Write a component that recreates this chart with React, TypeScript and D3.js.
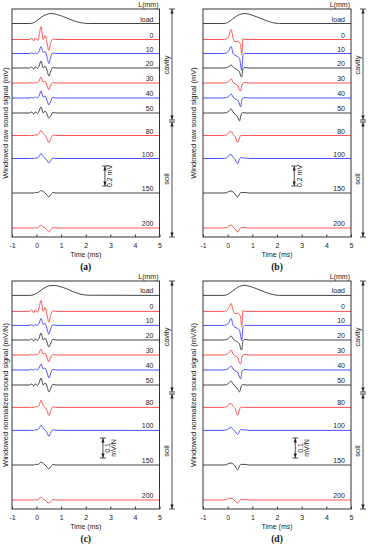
import React, { useEffect, useRef } from 'react';
import * as d3 from 'd3';

const FONT = '"Liberation Sans", Arial, sans-serif';

// distance labels, top to bottom
const traceLabels = ['load', '0', '10', '20', '30', '40', '50', '80', '100', '150', '200'];
const traceColors = ['#444', '#ff5252', '#4d4dff', '#444', '#ff5252', '#4d4dff', '#444', '#ff5252', '#4d4dff', '#444', '#ff5252'];

// vertical offsets of each trace (mV for raw, mV/N for normalized)
const offsetsRaw = [2.135, 1.975, 1.835, 1.69, 1.54, 1.39, 1.24, 1.015, 0.785, 0.44, 0.09];
const offsetsNorm = [1.068, 0.988, 0.918, 0.845, 0.77, 0.695, 0.62, 0.508, 0.393, 0.22, 0.045];

// time keypoints (ms)
const tLoad = [-1, -0.3, -0.15, 0, 0.2, 0.4, 0.55, 0.7, 0.9, 1.2, 1.5, 1.8, 2.1, 5];
const tSigAC = [-1, -0.3, -0.2, -0.12, -0.05, 0.03, 0.1, 0.18, 0.27, 0.35, 0.42, 0.5, 0.58, 0.66, 0.8, 5];
const tSigBD = [-1, -0.2, -0.05, 0.05, 0.14, 0.22, 0.3, 0.4, 0.48, 0.53, 0.57, 0.62, 0.7, 0.85, 5];

// load traces
const loadA = [0, 0, 0.005, 0.025, 0.065, 0.09, 0.1, 0.097, 0.085, 0.058, 0.028, 0.008, 0, 0];
const loadB = [0, 0, 0, 0.01, 0.045, 0.08, 0.095, 0.1, 0.09, 0.065, 0.035, 0.01, 0, 0];
const loadC = [0, 0, 0.002, 0.01, 0.028, 0.043, 0.049, 0.05, 0.046, 0.034, 0.018, 0.006, 0.001, 0];
const loadD = [0, 0, 0, 0.005, 0.022, 0.04, 0.048, 0.05, 0.045, 0.032, 0.017, 0.005, 0, 0];

// (a) windowed raw sound signal, mV (rows: 0,10,20,30,40,50,80,100,150,200 mm)
const sigA = [
  [0, 0, 0.015, -0.015, 0.015, -0.01, 0.035, 0.13, 0.0, 0.04, -0.03, -0.11, -0.03, 0.005, 0, 0],
  [0, 0, 0.005, -0.005, 0.005, 0, 0.02, 0.07, 0.01, 0.02, -0.03, -0.1, -0.03, 0.005, 0, 0],
  [0, 0, 0.01, -0.01, 0.012, -0.005, 0.02, 0.07, 0.0, 0.02, -0.02, -0.08, -0.03, 0.005, 0, 0],
  [0, 0, 0.005, 0, 0.005, 0, 0.02, 0.06, 0.01, 0.02, -0.02, -0.07, -0.02, 0.005, 0, 0],
  [0, 0, 0.005, 0, 0.01, 0, 0.02, 0.07, 0.01, 0.02, -0.02, -0.07, -0.03, 0.005, 0, 0],
  [0, 0, 0.01, -0.01, 0.012, -0.005, 0.02, 0.06, 0.0, 0.02, -0.01, -0.05, -0.03, 0.005, 0, 0],
  [0, 0, 0, 0, 0.005, 0.005, 0.02, 0.05, 0.02, 0.0, -0.03, -0.07, -0.03, 0.005, 0, 0],
  [0, 0, 0, 0, 0.005, 0.005, 0.02, 0.05, 0.02, 0.0, -0.02, -0.045, -0.02, 0.005, 0, 0],
  [0, 0, 0, 0, 0.005, 0.005, 0.01, 0.025, 0.015, 0.0, -0.02, -0.04, -0.015, 0.005, 0, 0],
  [0, 0, 0, 0, 0.005, 0, 0.01, 0.03, 0.01, 0.0, -0.02, -0.04, -0.015, 0.005, 0, 0],
];

// (b) windowed raw sound signal, mV
const sigB = [
  [0, 0, 0.005, 0.04, 0.1, 0.01, -0.02, -0.02, -0.03, -0.06, -0.15, 0.01, 0, 0, 0],
  [0, 0, 0.005, 0.03, 0.07, 0.0, -0.02, -0.03, -0.05, -0.12, -0.17, -0.02, 0, 0, 0],
  [0, 0, 0.003, 0.015, 0.03, 0.01, -0.005, -0.02, -0.04, -0.08, -0.09, -0.01, 0.005, 0, 0],
  [0, 0, 0.003, 0.02, 0.04, 0.01, -0.01, -0.02, -0.07, -0.08, -0.03, 0, 0.005, 0, 0],
  [0, 0, 0.003, 0.02, 0.04, 0.01, -0.01, -0.02, -0.06, -0.09, -0.03, 0, 0.005, 0, 0],
  [0, 0, 0.003, 0.02, 0.04, 0.01, -0.01, -0.04, -0.08, -0.03, 0, 0.005, 0, 0, 0],
  [0, 0, 0.005, 0.03, 0.04, 0.01, -0.01, -0.07, -0.02, 0, 0, 0.003, 0, 0, 0],
  [0, 0, 0.005, 0.03, 0.04, 0.01, -0.01, -0.05, -0.01, 0.01, 0.01, 0.005, 0.005, 0, 0],
  [0, 0, 0.003, 0.015, 0.02, 0.01, -0.01, -0.04, -0.01, 0.005, 0.005, 0.005, 0.005, 0, 0],
  [0, 0, 0.003, 0.02, 0.03, 0.01, -0.01, -0.04, -0.01, 0.005, 0.005, 0.005, 0.005, 0, 0],
];

// (c) windowed normalized sound signal, mV/N
const sigC = [
  [0, 0, 0.008, -0.008, 0.008, -0.005, 0.018, 0.055, 0.0, 0.02, -0.015, -0.055, -0.015, 0.003, 0, 0],
  [0, 0, 0.003, -0.003, 0.003, 0, 0.01, 0.035, 0.005, 0.01, -0.015, -0.045, -0.015, 0.003, 0, 0],
  [0, 0, 0.005, -0.005, 0.006, -0.003, 0.01, 0.035, 0, 0.01, -0.01, -0.035, -0.015, 0.003, 0, 0],
  [0, 0, 0.003, 0, 0.003, 0, 0.01, 0.03, 0.005, 0.01, -0.01, -0.035, -0.01, 0.003, 0, 0],
  [0, 0, 0.003, 0, 0.005, 0, 0.01, 0.03, 0.005, 0.01, -0.01, -0.04, -0.015, 0.003, 0, 0],
  [0, 0, 0.005, -0.005, 0.006, -0.003, 0.01, 0.035, 0, 0.01, -0.005, -0.035, -0.015, 0.003, 0, 0],
  [0, 0, 0, 0, 0.003, 0.003, 0.01, 0.035, 0.01, 0, -0.015, -0.04, -0.015, 0.003, 0, 0],
  [0, 0, 0, 0, 0.003, 0.003, 0.01, 0.025, 0.01, 0, -0.01, -0.03, -0.01, 0.003, 0, 0],
  [0, 0, 0, 0, 0.003, 0.003, 0.005, 0.015, 0.008, 0, -0.01, -0.02, -0.008, 0.003, 0, 0],
  [0, 0, 0, 0, 0.003, 0, 0.005, 0.015, 0.005, 0, -0.01, -0.015, -0.008, 0.003, 0, 0],
];

// (d) windowed normalized sound signal, mV/N
const sigD = [
  [0, 0, 0.003, 0.02, 0.04, 0.005, -0.01, -0.01, -0.015, -0.035, -0.075, 0.005, 0, 0, 0],
  [0, 0, 0.003, 0.015, 0.035, 0, -0.01, -0.015, -0.025, -0.055, -0.075, -0.01, 0, 0, 0],
  [0, 0, 0.002, 0.01, 0.02, 0.005, -0.003, -0.01, -0.02, -0.045, -0.05, -0.005, 0.003, 0, 0],
  [0, 0, 0.002, 0.012, 0.025, 0.005, -0.005, -0.01, -0.04, -0.045, -0.015, 0, 0.003, 0, 0],
  [0, 0, 0.002, 0.01, 0.02, 0.005, -0.005, -0.01, -0.035, -0.045, -0.015, 0, 0.003, 0, 0],
  [0, 0, 0.002, 0.01, 0.02, 0.005, -0.005, -0.02, -0.035, -0.015, 0, 0.003, 0, 0, 0],
  [0, 0, 0.003, 0.015, 0.02, 0.005, -0.005, -0.04, -0.01, 0, 0, 0.002, 0, 0, 0],
  [0, 0, 0.003, 0.01, 0.015, 0.005, -0.005, -0.02, -0.005, 0.005, 0.005, 0.003, 0.003, 0, 0],
  [0, 0, 0.002, 0.008, 0.01, 0.005, -0.005, -0.025, -0.005, 0.003, 0.003, 0.003, 0.003, 0, 0],
  [0, 0, 0.002, 0.008, 0.01, 0.005, -0.005, -0.015, -0.005, 0.003, 0.003, 0.003, 0.003, 0, 0],
];

const xTicks = [-1, 0, 1, 2, 3, 4, 5];

interface PanelDef {
  left: number; right: number; top: number; bottom: number;
  yMax: number; offsets: number[]; load: number[]; sig: number[][]; tSig: number[];
  yLabel: string; caption: string; barT: number; barV: [number, number]; barText: string[];
  split: number; arrowX: number; yLabelX: number;
}

const panels: PanelDef[] = [
  { left: 12, right: 159.5, top: 9, bottom: 237, yMax: 2.28, offsets: offsetsRaw, load: loadA, sig: sigA, tSig: tSigAC,
    yLabel: 'Windowed raw sound signal (mV)', caption: '(a)', barT: 2.78, barV: [0.51, 0.71], barText: ['0.2 mV'],
    split: 1.16, arrowX: 172, yLabelX: 5 },
  { left: 203, right: 351, top: 9, bottom: 237, yMax: 2.28, offsets: offsetsRaw, load: loadB, sig: sigB, tSig: tSigBD,
    yLabel: 'Windowed raw sound signal (mV)', caption: '(b)', barT: 2.7, barV: [0.51, 0.71], barText: ['0.2 mV'],
    split: 1.16, arrowX: 363, yLabelX: 193 },
  { left: 12, right: 159.5, top: 281, bottom: 509, yMax: 1.14, offsets: offsetsNorm, load: loadC, sig: sigC, tSig: tSigAC,
    yLabel: 'Windowed normalized sound signal (mV/N)', caption: '(c)', barT: 2.7, barV: [0.255, 0.355], barText: ['0.1', 'mV/N'],
    split: 0.58, arrowX: 172, yLabelX: 5 },
  { left: 203, right: 351, top: 281, bottom: 509, yMax: 1.14, offsets: offsetsNorm, load: loadD, sig: sigD, tSig: tSigBD,
    yLabel: 'Windowed normalized sound signal (mV/N)', caption: '(d)', barT: 2.74, barV: [0.255, 0.355], barText: ['0.1', 'mV/N'],
    split: 0.58, arrowX: 363, yLabelX: 193 },
];

// vertical dimension line with arrowheads and end bars
const DimLine = ({ x, y1, y2 }: { x: number; y1: number; y2: number }) => (
  <g stroke="#222" fill="#222" strokeWidth={0.8}>
    <line x1={x} x2={x} y1={y1} y2={y2} />
    <line x1={x - 3} x2={x + 3} y1={y1} y2={y1} />
    <line x1={x - 3} x2={x + 3} y1={y2} y2={y2} />
    <path d={`M${x},${y1} L${x - 1.6},${y1 + 4.5} L${x + 1.6},${y1 + 4.5} Z`} stroke="none" />
    <path d={`M${x},${y2} L${x - 1.6},${y2 - 4.5} L${x + 1.6},${y2 - 4.5} Z`} stroke="none" />
  </g>
);

const Panel = ({ p }: { p: PanelDef }) => {
  const axisRef = useRef<SVGGElement>(null);
  const x = d3.scaleLinear().domain([-1, 5]).range([p.left, p.right]);
  const y = d3.scaleLinear().domain([0, p.yMax]).range([p.bottom, p.top]);

  useEffect(() => {
    if (!axisRef.current) return;
    const g = d3.select(axisRef.current);
    g.selectAll('*').remove();
    g.call(d3.axisBottom(x).tickValues(xTicks).tickSize(-2.5).tickPadding(6.5).tickFormat(d => String(d)));
    g.select('.domain').remove();
    g.selectAll('line').attr('stroke', '#333');
    g.selectAll('text').attr('font-size', 7).attr('font-family', FONT).attr('fill', '#222');
  }, []);

  const line = d3.line<[number, number]>()
    .x(d => x(d[0]))
    .y(d => y(d[1]))
    .curve(d3.curveMonotoneX);

  const traces = [
    { t: tLoad, v: p.load },
    ...p.sig.map(v => ({ t: p.tSig, v })),
  ];

  const midX = (p.left + p.right) / 2;
  const midY = (p.top + p.bottom) / 2;
  const barX = x(p.barT);
  const barY1 = y(p.barV[1]);
  const barY2 = y(p.barV[0]);
  const splitY = y(p.split);

  return (
    <g>
      {traces.map((tr, i) => (
        <path key={i}
          d={line(tr.t.map((t, k) => [t, p.offsets[i] + tr.v[k]] as [number, number])) || ''}
          fill="none" stroke={traceColors[i]} strokeWidth={1} />
      ))}
      {traceLabels.map((lab, i) => (
        <text key={lab} x={p.right - 6} y={y(p.offsets[i]) - 2} textAnchor="end"
          fontSize={7} fontFamily={FONT} fill="#222">{lab}</text>
      ))}
      <rect x={p.left} y={p.top} width={p.right - p.left} height={p.bottom - p.top}
        fill="none" stroke="#333" strokeWidth={1} />
      <g ref={axisRef} transform={`translate(0,${p.bottom})`} />
      <text x={p.right - 1} y={p.top - 2} textAnchor="end" fontSize={7} fontFamily={FONT} fill="#222">L(mm)</text>
      <text x={midX} y={p.bottom + 19.5} textAnchor="middle" fontSize={7} fontFamily={FONT} fill="#222">Time (ms)</text>
      <text transform={`translate(${p.yLabelX + 2.6},${midY}) rotate(-90)`} textAnchor="middle"
        fontSize={7.5} fontFamily={FONT} fill="#222">{p.yLabel}</text>
      <text x={midX} y={p.bottom + 33} textAnchor="middle" fontSize={9.5} fontWeight="bold"
        fontFamily='"Liberation Serif", "Times New Roman", serif' fill="#111">{p.caption}</text>

      {/* scale bar */}
      <DimLine x={barX} y1={barY1} y2={barY2} />
      {p.barText.map((s, i) => (
        <text key={s} transform={`translate(${barX + 7.5 + i * 6},${(barY1 + barY2) / 2}) rotate(-90)`}
          textAnchor="middle" fontSize={7} fontFamily={FONT} fill="#222">{s}</text>
      ))}

      {/* cavity / soil zones */}
      <DimLine x={p.arrowX} y1={p.top} y2={splitY - 1} />
      <DimLine x={p.arrowX} y1={splitY + 1} y2={p.bottom} />
      <text transform={`translate(${p.arrowX - 3.5},${(p.top + splitY) / 2}) rotate(-90)`} textAnchor="middle"
        fontSize={7.5} fontFamily={FONT} fill="#222">cavity</text>
      <text transform={`translate(${p.arrowX - 3.5},${(splitY + p.bottom) / 2}) rotate(-90)`} textAnchor="middle"
        fontSize={7.5} fontFamily={FONT} fill="#222">soil</text>
    </g>
  );
};

export default function App() {
  return (
    <svg width={369} height={550} style={{ position: 'absolute', left: 0, top: 0, background: '#fff' }}>
      {panels.map(p => <Panel key={p.caption} p={p} />)}
    </svg>
  );
}
